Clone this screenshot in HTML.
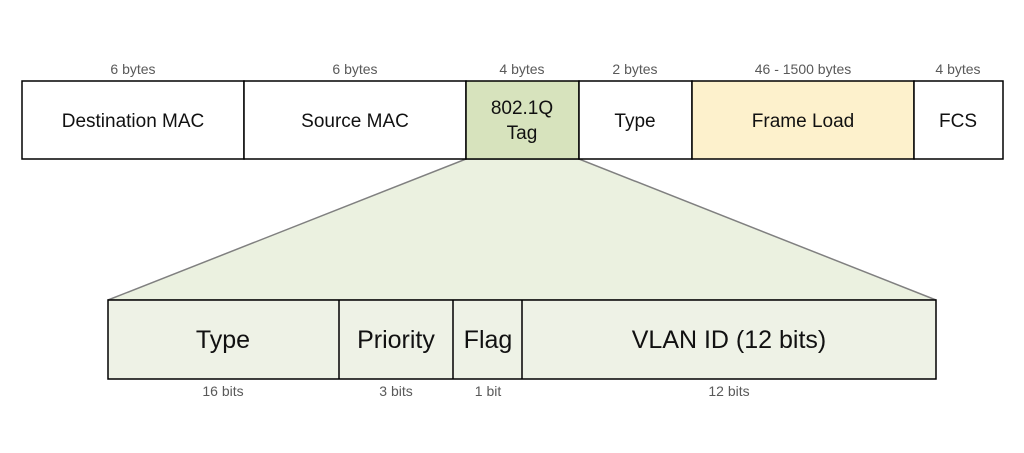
<!DOCTYPE html>
<html><head><meta charset="utf-8"><style>body{margin:0;background:#fff}</style></head><body>
<svg width="1024" height="448" xmlns="http://www.w3.org/2000/svg" font-family="Liberation Sans, sans-serif">
<polygon points="466,159 579,159 936,300 108,300" fill="#ebf1e0" stroke="#808080" stroke-width="1.5"/>
<g stroke="#000" stroke-width="1.5">
<rect x="22" y="81" width="222" height="78" fill="#fff"/>
<rect x="244" y="81" width="222" height="78" fill="#fff"/>
<rect x="466" y="81" width="113" height="78" fill="#d7e3bd"/>
<rect x="579" y="81" width="113" height="78" fill="#fff"/>
<rect x="692" y="81" width="222" height="78" fill="#fdf1cc"/>
<rect x="914" y="81" width="89" height="78" fill="#fff"/>
<rect x="108" y="300" width="828" height="79" fill="#eef2e6"/>
<line x1="339" y1="300" x2="339" y2="379"/>
<line x1="453" y1="300" x2="453" y2="379"/>
<line x1="522" y1="300" x2="522" y2="379"/>
</g>
<g font-size="14" fill="#595959" text-anchor="middle">
<text x="133" y="74">6 bytes</text>
<text x="355" y="74">6 bytes</text>
<text x="522" y="74">4 bytes</text>
<text x="635" y="74">2 bytes</text>
<text x="803" y="74">46 - 1500 bytes</text>
<text x="958" y="74">4 bytes</text>
<text x="223" y="396">16 bits</text>
<text x="396" y="396">3 bits</text>
<text x="488" y="396">1 bit</text>
<text x="729" y="396">12 bits</text>
</g>
<g font-size="19" fill="#111" text-anchor="middle">
<text x="133" y="127">Destination MAC</text>
<text x="355" y="127">Source MAC</text>
<text x="522" y="114">802.1Q</text>
<text x="522" y="139">Tag</text>
<text x="635" y="127">Type</text>
<text x="803" y="127">Frame Load</text>
<text x="958" y="127">FCS</text>
</g>
<g font-size="25" fill="#111" text-anchor="middle">
<text x="223" y="348">Type</text>
<text x="396" y="348">Priority</text>
<text x="488" y="348">Flag</text>
<text x="729" y="348">VLAN ID (12 bits)</text>
</g>
</svg>
</body></html>
